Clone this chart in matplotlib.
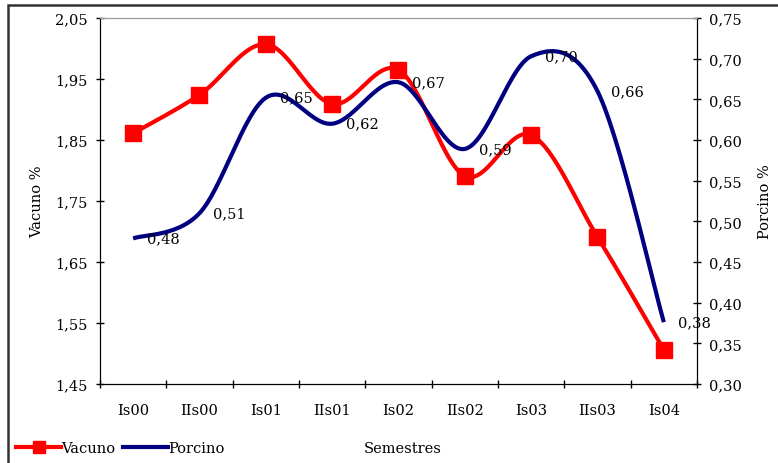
import numpy as np
import matplotlib
matplotlib.use('Agg')
import matplotlib.pyplot as plt
from matplotlib.lines import Line2D
from matplotlib.patches import Rectangle

plt.rcParams['font.family'] = ['DejaVu Serif']
plt.rcParams['font.size'] = 10.5

semestres = ['Is00', 'IIs00', 'Is01', 'IIs01', 'Is02', 'IIs02', 'Is03', 'IIs03', 'Is04']
vacuno = [1.861, 1.924, 2.007, 1.909, 1.965, 1.791, 1.858, 1.691, 1.506]
porcino = [0.479, 0.51, 0.652, 0.62, 0.671, 0.589, 0.703, 0.66, 0.376]
porcino_etiquetas = ['0,48', '0,51', '0,65', '0,62', '0,67', '0,59', '0,70', '0,66', '0,38']

vac_ticks = [1.45, 1.55, 1.65, 1.75, 1.85, 1.95, 2.05]
por_ticks = [0.30, 0.35, 0.40, 0.45, 0.50, 0.55, 0.60, 0.65, 0.70, 0.75]


def suavizar(x, y, n=30):
    # curva suavizada tipo Excel (bezier con tangentes catmull-rom)
    x = np.asarray(x, float)
    y = np.asarray(y, float)
    p = np.column_stack([x, y])
    pp = np.vstack([p[0], p, p[-1]])
    out = []
    t = np.linspace(0, 1, n)[:, None]
    for i in range(len(p) - 1):
        p0, p1, p2, p3 = pp[i], pp[i + 1], pp[i + 2], pp[i + 3]
        c1 = p1 + (p2 - p0) / 6
        c2 = p2 - (p3 - p1) / 6
        seg = ((1 - t) ** 3) * p1 + 3 * ((1 - t) ** 2) * t * c1 + 3 * (1 - t) * t ** 2 * c2 + t ** 3 * p2
        out.append(seg if i == 0 else seg[1:])
    out = np.vstack(out)
    return out[:, 0], out[:, 1]


fig = plt.figure(figsize=(7.78, 4.64), dpi=100)
ax = fig.add_axes([100 / 778, (464 - 385) / 464, 597 / 778, 366 / 464])
ax2 = ax.twinx()

xs = np.arange(len(semestres))
sx, sy = suavizar(xs, vacuno)
ax.plot(sx, sy, color='#FF0000', lw=3, solid_capstyle='butt')
ax.plot(xs, vacuno, ls='none', marker='s', ms=11, color='#FF0000')

px, py = suavizar(xs, porcino)
ax2.plot(px, py, color='#000080', lw=3, solid_capstyle='butt')
for xi, yi, lab in zip(xs, porcino, porcino_etiquetas):
    ax2.annotate(lab, (xi, yi), xytext=(10, 0), textcoords='offset points',
                 va='center', ha='left')

ax.set_xlim(-0.5, len(semestres) - 0.5)
ax.set_ylim(1.45, 2.05)
ax2.set_ylim(0.30, 0.75)
ax.set_yticks(vac_ticks)
ax.set_yticklabels([f'{v:.2f}'.replace('.', ',') for v in vac_ticks])
ax2.set_yticks(por_ticks)
ax2.set_yticklabels([f'{v:.2f}'.replace('.', ',') for v in por_ticks])
ax.set_xticks(xs)
ax.set_xticklabels(semestres)
ax.set_xticks(np.arange(-0.5, len(semestres)), minor=True)
ax.tick_params(axis='x', which='major', length=0, pad=14)
ax.tick_params(axis='x', which='minor', length=6, direction='inout', width=1)
ax.tick_params(axis='y', length=6, direction='inout', width=1, pad=6)
ax2.tick_params(axis='y', length=6, direction='inout', width=1, pad=6)

for a in (ax, ax2):
    a.spines['top'].set_color('#999999')
    a.spines['left'].set_color('black')
    a.spines['right'].set_color('black')
    a.spines['bottom'].set_color('black')

ax.set_ylabel('Vacuno %', labelpad=8)
ax2.set_ylabel('Porcino %', labelpad=11)

fig.text(403 / 778, 1 - 449 / 464, 'Semestres', ha='center', va='center')

handles = [Line2D([], [], color='#FF0000', lw=3, marker='s', ms=9),
           Line2D([], [], color='#000080', lw=3)]
fig.legend(handles, ['Vacuno', 'Porcino'], loc='center left',
           bbox_to_anchor=(6 / 778, 1 - 449 / 464), ncol=2, frameon=False,
           handlelength=3.1, handletextpad=0.0, columnspacing=0.5, borderpad=0.2)

fig.patches.append(Rectangle((8 / 778, -0.1), 1.2, 1.1 - 6 / 464, transform=fig.transFigure,
                             fill=False, edgecolor='#333333', lw=1.8))

fig.savefig('out.png', dpi=100)
